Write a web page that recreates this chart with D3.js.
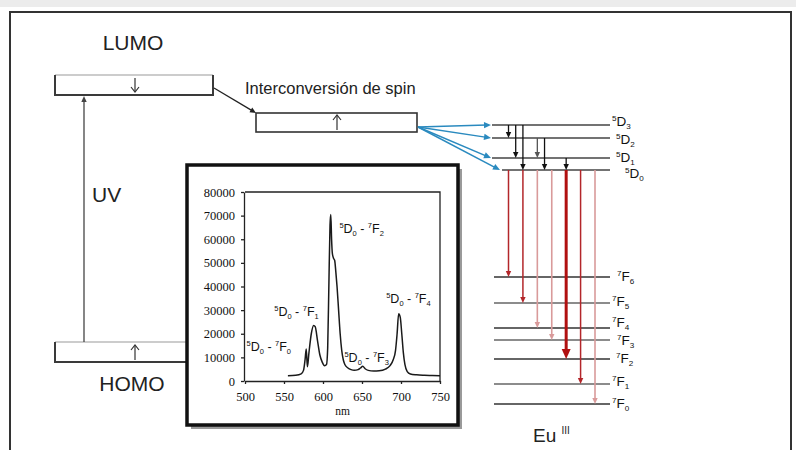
<!DOCTYPE html>
<html>
<head>
<meta charset="utf-8">
<script src="https://cdn.jsdelivr.net/npm/d3@7"></script>
<style>
  body { margin: 0; background: #fff; }
  svg { display: block; }
</style>
</head>
<body>
<script>
// emission spectrum of the Eu(III) complex (inset)
const specNm = [555, 565, 572, 575, 577, 578.5, 580, 582, 585, 588, 590, 593, 596, 599, 602, 604.5, 606, 607.5, 609, 610,
  611, 612, 613.5, 615, 616.5, 618, 620, 622, 624, 626, 628, 632, 636, 640, 645, 648, 651, 654, 658, 665,
  672, 680, 686, 690, 693, 695, 697, 699, 701, 703, 705, 708, 712, 720, 730, 740, 750];
const specInt = [2200, 2400, 3000, 4500, 9000, 13500, 6000, 12000, 20000, 23500, 23000, 17000, 11000, 8000, 6500, 7000, 14000, 40000, 66000, 70500,
  60000, 54000, 52000, 51000, 46000, 40000, 30000, 20000, 13000, 9000, 7000, 5500, 4800, 4500, 4800, 5500, 6200, 5200, 4500, 4200,
  4300, 5000, 6500, 9000, 13000, 20000, 28500, 27000, 20000, 12000, 7000, 4000, 3000, 2600, 2400, 2300, 2200];
const xTicks = [500, 550, 600, 650, 700, 750];
const yTicks = [0, 10000, 20000, 30000, 40000, 50000, 60000, 70000, 80000];

// peak labels in the inset (anchor in nm / intensity)
const peakFrom = ['5D0', '5D0', '5D0', '5D0', '5D0'];
const peakTo = ['7F0', '7F1', '7F2', '7F3', '7F4'];
const peakLabNm = [502, 537.5, 621, 627.5, 681];
const peakLabInt = [12700, 27500, 62600, 8000, 33000];

// ligand levels (arbitrary energy units)
const orbitalNames = ['LUMO', 'T1', 'HOMO'];
const orbitalEnergy = [309, 272, 42];

// Eu(III) levels
const dNames = ['5D3', '5D2', '5D1', '5D0'];
const dEnergy = [279, 266, 246, 234];
const fNames = ['7F6', '7F5', '7F4', '7F3', '7F2', '7F1', '7F0'];
const fEnergy = [127, 101, 76, 64, 45, 20, 0];

// non radiative relaxation inside 5D manifold
const relaxFrom = ['5D3', '5D3', '5D3', '5D2', '5D2', '5D1'];
const relaxTo = ['5D2', '5D1', '5D0', '5D1', '5D0', '5D0'];
const relaxColumn = [0, 1, 2, 4, 5, 8];

// emissions 5D0 -> 7FJ
const emitTo = ['7F6', '7F5', '7F4', '7F3', '7F2', '7F1', '7F0'];
const emitStrength = [1, 1, 0, 0, 2, 1, 0];
const emitColumn = [0, 2, 4, 6, 8, 10, 12];

const W = 796, H = 450;
const svg = d3.select('body').append('svg').attr('width', W).attr('height', H);

const energy = {};
dNames.forEach((n, i) => energy[n] = dEnergy[i]);
fNames.forEach((n, i) => energy[n] = fEnergy[i]);

const yE = d3.scaleLinear().domain([0, 329]).range([404, 75]);
const xCol = d3.scaleLinear().domain([0, 12]).range([508.5, 595]);

// background strip + frame
svg.append('rect').attr('x', 0).attr('y', 0).attr('width', W).attr('height', 7).attr('fill', '#ececec');
svg.append('rect').attr('x', 10).attr('y', 12).attr('width', 781).attr('height', 470)
  .attr('fill', 'none').attr('stroke', '#333').attr('stroke-width', 2);

function arrow(g, x1, y1, x2, y2, color, width, head) {
  const a = Math.atan2(y2 - y1, x2 - x1);
  const bx = x2 - Math.cos(a) * head, by = y2 - Math.sin(a) * head;
  g.append('line').attr('x1', x1).attr('y1', y1)
    .attr('x2', x2 - Math.cos(a) * head * 0.6).attr('y2', y2 - Math.sin(a) * head * 0.6)
    .attr('stroke', color).attr('stroke-width', width);
  const hw = head * 0.45;
  const px = -Math.sin(a) * hw, py = Math.cos(a) * hw;
  g.append('path')
    .attr('d', `M${x2},${y2}L${bx + px},${by + py}L${bx - px},${by - py}Z`)
    .attr('fill', color);
}

function spinArrow(g, x, yFrom, yTo) {
  const dir = yTo < yFrom ? 1 : -1;
  g.append('line').attr('x1', x).attr('y1', yFrom).attr('x2', x).attr('y2', yTo)
    .attr('stroke', '#333').attr('stroke-width', 1.2);
  g.append('path').attr('d', `M${x - 4},${yTo + dir * 5}L${x},${yTo}L${x + 4},${yTo + dir * 5}`)
    .attr('fill', 'none').attr('stroke', '#333').attr('stroke-width', 1.2);
}

function addTerm(t, term, size) {
  t.append('tspan').attr('font-size', size * 0.6).attr('dy', -size * 0.38).text(term[0]);
  t.append('tspan').attr('font-size', size).attr('dy', size * 0.38).text(term[1]);
  t.append('tspan').attr('font-size', size * 0.6).attr('dy', size * 0.25).text(term.slice(2));
}

const sans = 'Liberation Sans, Arial, sans-serif';
const left = svg.append('g');

// LUMO / HOMO boxes
const boxH = 20;
[0, 2].forEach(i => {
  const yb = yE(orbitalEnergy[i]);
  left.append('line').attr('x1', 55).attr('x2', 213).attr('y1', yb - boxH).attr('y2', yb - boxH)
    .attr('stroke', '#bbb').attr('stroke-width', 1.5);
  left.append('path').attr('d', `M55,${yb - boxH}V${yb}H213V${yb - boxH}`)
    .attr('fill', 'none').attr('stroke', '#3a3a3a').attr('stroke-width', 2);
});
const yL = yE(orbitalEnergy[0]), yT = yE(orbitalEnergy[1]), yHo = yE(orbitalEnergy[2]);
spinArrow(left, 135, yL - boxH + 3, yL - 3);
spinArrow(left, 135, yHo - 2, yHo - boxH + 3);
left.append('text').attr('x', 133).attr('y', 50).attr('text-anchor', 'middle')
  .attr('font-family', sans).attr('font-size', 21).attr('fill', '#222').text(orbitalNames[0]);
left.append('text').attr('x', 132).attr('y', 391).attr('text-anchor', 'middle')
  .attr('font-family', sans).attr('font-size', 21).attr('fill', '#222').text(orbitalNames[2]);

// UV excitation
arrow(left, 84, yHo - boxH, 84, yL + 1, '#444', 1.3, 6);
left.append('text').attr('x', 92).attr('y', 202).attr('font-family', sans).attr('font-size', 21)
  .attr('fill', '#222').text('UV');

// triplet box + ISC
left.append('rect').attr('x', 256).attr('y', yT - 19).attr('width', 161).attr('height', 19)
  .attr('fill', '#fff').attr('stroke', '#333').attr('stroke-width', 1.6);
spinArrow(left, 337, yT - 2, yT - 17);
arrow(left, 214, yL - 7, 256, yT - 19, '#222', 1.3, 6);
left.append('text').attr('x', 245).attr('y', 94).attr('font-family', sans).attr('font-size', 16.5)
  .attr('fill', '#222').text('Interconversión de spin');

// Eu(III) levels
const eu = svg.append('g');
dNames.forEach((n, i) => {
  const y = yE(dEnergy[i]);
  eu.append('line').attr('x1', i === 3 ? 502 : 492).attr('x2', 610).attr('y1', y).attr('y2', y)
    .attr('stroke', '#444').attr('stroke-width', 1.6);
});
fNames.forEach((n, i) => {
  const y = yE(fEnergy[i]);
  eu.append('line').attr('x1', 494).attr('x2', 610).attr('y1', y).attr('y2', y)
    .attr('stroke', i % 2 === 0 ? '#333' : '#666').attr('stroke-width', 1.6);
});

// energy transfer (blue)
dNames.forEach((n, i) => {
  arrow(eu, 418, yT - 5, i === 3 ? 500 : 491, yE(dEnergy[i]), '#2a8abf', 1.5, 7);
});

// relaxation (black)
relaxFrom.forEach((f, i) => {
  arrow(eu, xCol(relaxColumn[i]), yE(energy[f]), xCol(relaxColumn[i]), yE(energy[relaxTo[i]]),
    i === 3 ? '#555' : '#111', 1.3, 6);
});

// emission (red)
const redColor = ['#d99a9a', '#b3262a', '#b01010'];
const redWidth = [1.6, 1.5, 3];
const redHead = [6, 6, 10];
emitTo.forEach((t, i) => {
  const s = emitStrength[i];
  arrow(eu, xCol(emitColumn[i]), yE(energy['5D0']), xCol(emitColumn[i]), yE(energy[t]),
    redColor[s], redWidth[s], redHead[s]);
});

// level labels
const dLabX = [612, 616, 616, 625];
const dLabDy = [1, 6, 4, 8];
dNames.forEach((n, i) => {
  const t = eu.append('text').attr('x', dLabX[i]).attr('y', yE(dEnergy[i]) + dLabDy[i])
    .attr('font-family', sans).attr('fill', '#111');
  addTerm(t, n, 13.5);
});
const fLabX = [617, 612, 612, 617, 616, 612, 612];
const fLabDy = [4, 3, -1, 5, 4, 2, 4];
fNames.forEach((n, i) => {
  const t = eu.append('text').attr('x', fLabX[i]).attr('y', yE(fEnergy[i]) + fLabDy[i])
    .attr('font-family', sans).attr('fill', '#111');
  addTerm(t, n, 13.5);
});
const euT = eu.append('text').attr('x', 533).attr('y', 442).attr('font-family', sans)
  .attr('font-size', 19).attr('fill', '#222');
euT.append('tspan').text('Eu ');
euT.append('tspan').attr('font-size', 10).attr('dy', -8).text('III');

// inset spectrum
const inset = svg.append('g');
inset.append('rect').attr('x', 191).attr('y', 169).attr('width', 271).attr('height', 260).attr('fill', '#9a9a9a');
inset.append('rect').attr('x', 187).attr('y', 165).attr('width', 271).attr('height', 260)
  .attr('fill', '#fff').attr('stroke', '#111').attr('stroke-width', 3.5);

const xS = d3.scaleLinear().domain([500, 750]).range([245, 440]);
const yS = d3.scaleLinear().domain([0, 80000]).range([381, 192]);
const serif = 'Liberation Serif, Times New Roman, serif';

const xAxis = inset.append('g').attr('transform', 'translate(0,381)')
  .call(d3.axisBottom(xS).tickValues(xTicks).tickSize(3).tickSizeOuter(0));
const yAxis = inset.append('g').attr('transform', 'translate(244,0)')
  .call(d3.axisLeft(yS).tickValues(yTicks).tickSize(3).tickSizeOuter(0).tickFormat(d3.format('d')));
[xAxis, yAxis].forEach(a => {
  a.selectAll('path,line').attr('stroke', '#222').attr('stroke-width', 1.3);
  a.selectAll('text').attr('font-family', serif).attr('font-size', 12.5).attr('fill', '#111');
});
xAxis.selectAll('text').attr('dy', '1.1em');
yAxis.selectAll('text').attr('x', -9);
inset.append('path')
  .attr('d', `M${xS(500)},${yS(80000)}H${xS(750)}V${yS(0)}`)
  .attr('fill', 'none').attr('stroke', '#222').attr('stroke-width', 1.3);
inset.append('text').attr('x', xS(625)).attr('y', 415).attr('text-anchor', 'middle')
  .attr('font-family', serif).attr('font-size', 11.5).attr('fill', '#111').text('nm');

const line = d3.line().x((d, i) => xS(specNm[i])).y(d => yS(d)).curve(d3.curveMonotoneX);
inset.append('path').datum(specInt).attr('d', line)
  .attr('fill', 'none').attr('stroke', '#1a1a1a').attr('stroke-width', 1.5);

peakFrom.forEach((f, i) => {
  const t = inset.append('text').attr('x', xS(peakLabNm[i])).attr('y', yS(peakLabInt[i]))
    .attr('font-family', sans).attr('fill', '#111');
  addTerm(t, f, 12.5);
  t.append('tspan').attr('font-size', 12.5).attr('dy', -12.5 * 0.25).text(' - ');
  addTerm(t, peakTo[i], 12.5);
});
</script>
</body>
</html>
